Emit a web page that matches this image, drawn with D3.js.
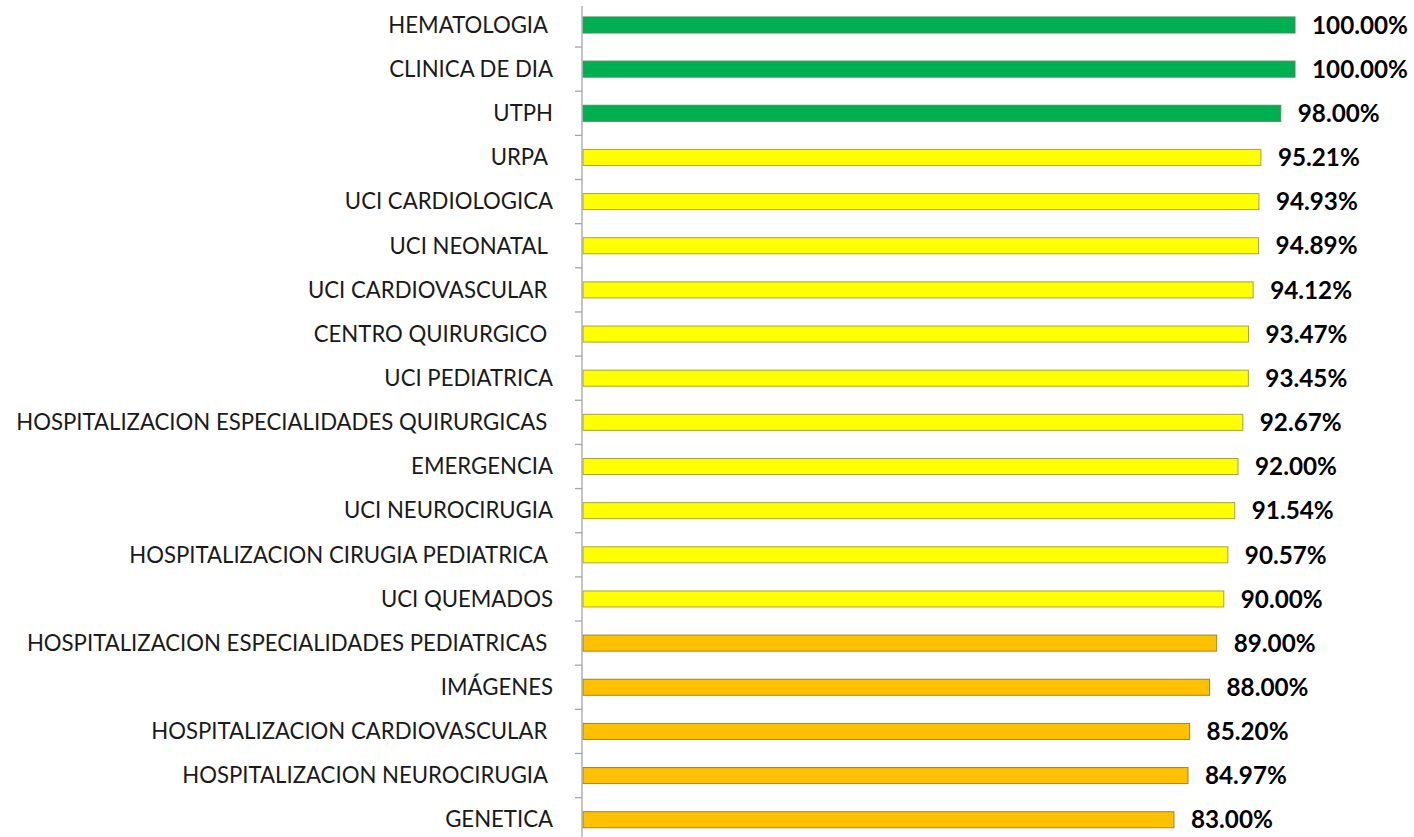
<!DOCTYPE html>
<html>
<head>
<meta charset="utf-8">
<script src="https://cdn.jsdelivr.net/npm/d3@7"></script>
<style>
  body { margin: 0; background: #fff; }
  svg text { white-space: pre; }
</style>
</head>
<body>
<svg id="chart" width="1414" height="837"></svg>
<script>
// services, top to bottom (trailing spaces as in the original labels)
var services = [
  'HEMATOLOGIA ', 'CLINICA DE DIA', 'UTPH', 'URPA ', 'UCI CARDIOLOGICA',
  'UCI NEONATAL ', 'UCI CARDIOVASCULAR ', 'CENTRO QUIRURGICO ', 'UCI PEDIATRICA',
  'HOSPITALIZACION ESPECIALIDADES QUIRURGICAS ', 'EMERGENCIA', 'UCI NEUROCIRUGIA',
  'HOSPITALIZACION CIRUGIA PEDIATRICA ', 'UCI QUEMADOS',
  'HOSPITALIZACION ESPECIALIDADES PEDIATRICAS ', 'IMÁGENES',
  'HOSPITALIZACION CARDIOVASCULAR ', 'HOSPITALIZACION NEUROCIRUGIA ', 'GENETICA'
];

// compliance percentage per service
var values = [
  100.00, 100.00, 98.00, 95.21, 94.93, 94.89, 94.12, 93.47, 93.45,
  92.67, 92.00, 91.54, 90.57, 90.00, 89.00, 88.00, 85.20, 84.97, 83.00
];

// colour bands: below 90 orange, 90-96 yellow, above green
var bandLimits = [90, 96];

var svg = d3.select('#chart');

var x = d3.scaleLinear().domain([0, 100]).range([583, 1295]);
var y = d3.scaleBand().domain(services).range([2.9, 841.8]).paddingInner(0.637).paddingOuter(0.3185);

var fill = d3.scaleThreshold().domain(bandLimits).range(['#ffc000', '#ffff00', '#00b050']);
var edge = d3.scaleThreshold().domain(bandLimits).range(['#a08428', '#a8a43a', '#3f8f5a']);

var rows = services.map(function (s, i) { return {label: s, value: values[i]}; });

// bars
svg.append('g').selectAll('rect')
  .data(rows)
  .enter().append('rect')
    .attr('x', x(0))
    .attr('y', function (d) { return y(d.label); })
    .attr('width', function (d) { return x(d.value) - x(0); })
    .attr('height', y.bandwidth())
    .attr('fill', function (d) { return fill(d.value); })
    .attr('stroke', function (d) { return edge(d.value); })
    .attr('stroke-width', 1);

// vertical axis with ticks between categories
var axis = svg.append('g');
axis.append('line')
  .attr('x1', 582).attr('x2', 582)
  .attr('y1', 6).attr('y2', 837)
  .attr('stroke', '#a6a6a6').attr('stroke-width', 1.3);

axis.selectAll('line.tick')
  .data(services.slice(1))
  .enter().append('line')
    .attr('class', 'tick')
    .attr('x1', 575).attr('x2', 582)
    .attr('y1', function (d) { return y(d) - y.step() * y.paddingInner() / 2; })
    .attr('y2', function (d) { return y(d) - y.step() * y.paddingInner() / 2; })
    .attr('stroke', '#a6a6a6').attr('stroke-width', 1.3);

// category labels
var labels = svg.append('g').selectAll('text')
  .data(rows)
  .enter().append('text')
    .attr('x', 553)
    .attr('y', function (d) { return y(d.label) + y.bandwidth() / 2; })
    .attr('dy', '0.35em')
    .attr('text-anchor', 'end')
    .attr('font-family', 'Lato, "Open Sans", sans-serif')
    .attr('font-size', 20)
    .attr('fill', '#1a1a1a')
    .text(function (d) { return d.label; });

// fit the widest label to the original width
var widest = labels.filter(function (d) { return d.label === 'HOSPITALIZACION ESPECIALIDADES QUIRURGICAS '; });
var w = widest.node().getComputedTextLength();
labels.attr('font-size', 20 * 537 / w);

// value labels
var vals = svg.append('g').selectAll('text')
  .data(rows)
  .enter().append('text')
    .attr('x', function (d) { return x(d.value) + 17; })
    .attr('y', function (d) { return y(d.label) + y.bandwidth() / 2; })
    .attr('dy', '0.36em')
    .attr('font-family', 'Lato, "Open Sans", sans-serif')
    .attr('font-weight', 'bold')
    .attr('font-size', 20)
    .attr('fill', '#000')
    .text(function (d) { return d.value.toFixed(2) + '%'; });

var vw = vals.node().getComputedTextLength();
vals.attr('font-size', 20 * 96 / vw);
</script>
</body>
</html>
